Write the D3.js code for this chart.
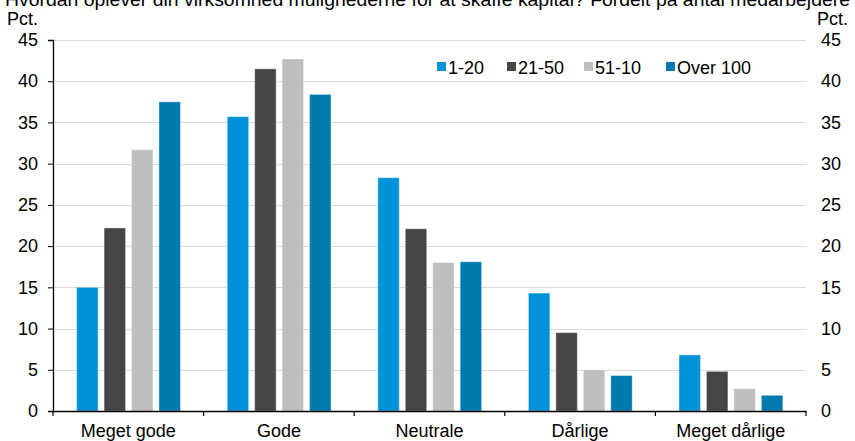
<!DOCTYPE html>
<html><head><meta charset="utf-8">
<script src="https://cdn.jsdelivr.net/npm/d3@7"></script>
<style>body{margin:0;background:#fff}svg{display:block;font-family:"Liberation Sans",Arial,sans-serif}</style>
</head><body><svg id="c" width="855" height="441"></svg>
<script>
const title = "Hvordan oplever din virksomhed mulighederne for at skaffe kapital? Fordelt på antal medarbejdere";
const unitLabel = "Pct.";
const categories = ["Meget gode", "Gode", "Neutrale", "Dårlige", "Meget dårlige"];
const seriesNames = ["1-20", "21-50", "51-10", "Over 100"];
const s1_20 = [15.0, 35.7, 28.3, 14.3, 6.8];
const s21_50 = [22.2, 41.5, 22.1, 9.5, 4.8];
const s51_10 = [31.7, 42.7, 18.0, 5.0, 2.7];
const sOver100 = [37.5, 38.4, 18.1, 4.3, 1.9];
const seriesColors = ["#0092d9", "#464646", "#bebebe", "#007aae"];
const yTicks = [0, 5, 10, 15, 20, 25, 30, 35, 40, 45];

const seriesValues = [s1_20, s21_50, s51_10, sOver100];
const svg = d3.select("#c");
const L = 53, R = 806, T = 40, B = 411;
const fs = 18;

const y = d3.scaleLinear().domain([0, 45]).range([B, T]);
const x = d3.scaleBand().domain(categories).range([L, R]).padding(0);
const bw = x.bandwidth();
const xs = d3.scaleBand().domain(seriesNames).range([bw * 0.157, bw * 0.846]).paddingInner(0.22);

// title (partly cut off at top, as in the reference)
svg.append("text").attr("x", 5).attr("y", 6).attr("font-size", fs)
  .attr("textLength", 845).attr("lengthAdjust", "spacingAndGlyphs").attr("fill", "#000").text(title);

// gridlines
svg.append("g").selectAll("line").data(yTicks.filter(d => d > 0)).join("line")
  .attr("x1", L).attr("x2", R).attr("y1", d => Math.round(y(d)) + 0.5).attr("y2", d => Math.round(y(d)) + 0.5)
  .attr("stroke", "#d9d9d9").attr("stroke-width", 1.2);

// bars
const gs = svg.append("g").selectAll("g").data(seriesNames).join("g")
  .attr("fill", (d, i) => seriesColors[i]);
gs.selectAll("rect").data((s, i) => seriesValues[i].map((v, j) => ({s, v, c: categories[j]}))).join("rect")
  .attr("x", d => x(d.c) + xs(d.s)).attr("width", xs.bandwidth())
  .attr("y", d => y(d.v)).attr("height", d => B - y(d.v))
  .attr("stroke", "#ffffff").attr("stroke-opacity", 0.35).attr("stroke-width", 1);

// left axis
const la = svg.append("g").attr("transform", `translate(${L},0)`)
  .call(d3.axisLeft(y).tickValues(yTicks).tickSize(5).tickPadding(10).tickFormat(d3.format("d")));
la.select(".domain").attr("stroke", "#000").attr("stroke-width", 1.3);
la.selectAll(".tick line").attr("stroke", "#000");
la.selectAll("text").attr("font-size", fs).attr("font-family", "Liberation Sans, Arial, sans-serif").attr("fill", "#000");

// right axis (labels only)
const ra = svg.append("g").attr("transform", `translate(${R},0)`)
  .call(d3.axisRight(y).tickValues(yTicks).tickSize(0).tickPadding(15).tickFormat(d3.format("d")));
ra.select(".domain").remove();
ra.selectAll("text").attr("font-size", fs).attr("font-family", "Liberation Sans, Arial, sans-serif").attr("fill", "#000");

// x axis
const xa = svg.append("g").attr("transform", `translate(0,${B})`)
  .call(d3.axisBottom(x).tickSize(0).tickPadding(13));
xa.select(".domain").attr("stroke", "#000").attr("stroke-width", 1.5);
xa.selectAll("text").attr("font-size", fs).attr("font-family", "Liberation Sans, Arial, sans-serif").attr("fill", "#000");
const bounds = categories.map(c => x(c)).concat([R]);
xa.append("g").selectAll("line").data(bounds).join("line")
  .attr("x1", d => d).attr("x2", d => d).attr("y1", 0).attr("y2", 5).attr("stroke", "#000").attr("stroke-width", 1.2);

// unit labels
svg.append("text").attr("x", 7).attr("y", 25).attr("font-size", fs).text(unitLabel);
svg.append("text").attr("x", 848).attr("y", 25).attr("font-size", fs).attr("text-anchor", "end").text(unitLabel);

// legend
const legX = [437, 507, 584, 666];
const lg = svg.append("g").selectAll("g").data(seriesNames).join("g")
  .attr("transform", (d, i) => `translate(${legX[i]},0)`);
lg.append("rect").attr("x", 0).attr("y", 62).attr("width", 9).attr("height", 9).attr("fill", (d, i) => seriesColors[i]);
lg.append("text").attr("x", 11).attr("y", 74).attr("font-size", fs).text(d => d);
</script></body></html>
